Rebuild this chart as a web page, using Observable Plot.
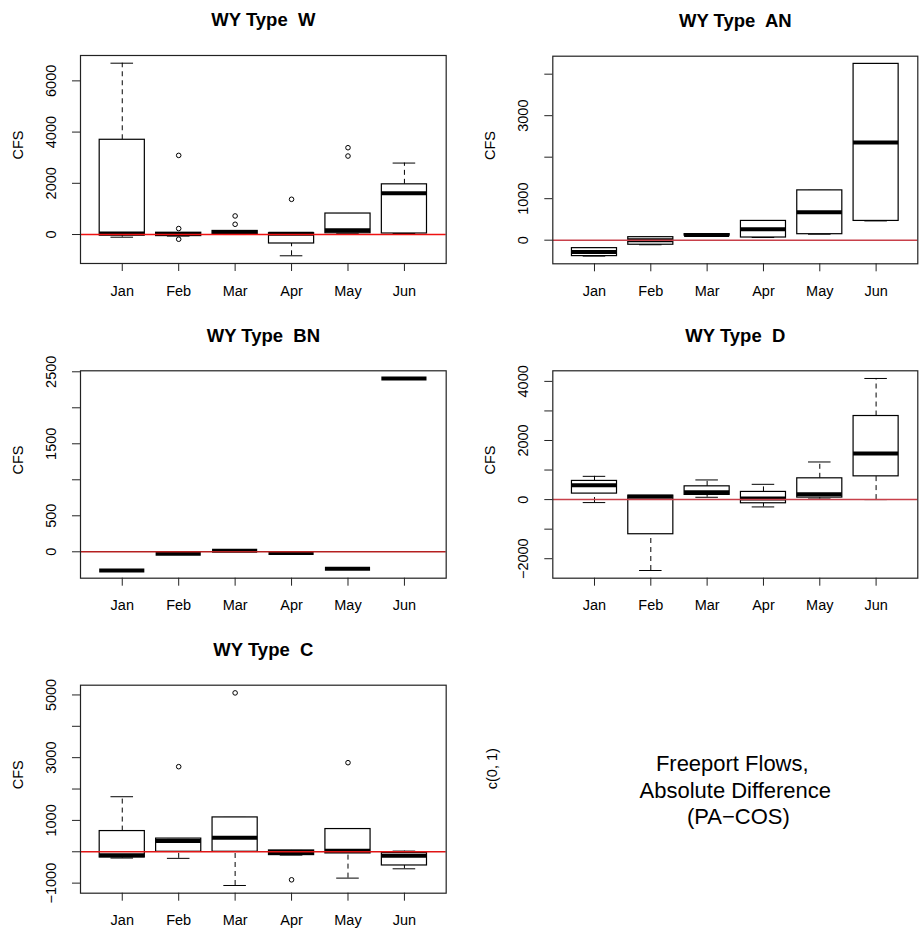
<!DOCTYPE html>
<html>
<head>
<meta charset="utf-8">
<script src="https://cdn.jsdelivr.net/npm/d3@7"></script>
<script src="https://cdn.jsdelivr.net/npm/@observablehq/plot@0.6"></script>
<style>
  html, body { margin: 0; padding: 0; background: #fff; }
  #chart { position: relative; width: 923px; height: 941px; overflow: hidden; background: #fff; }
  #chart svg { position: absolute; overflow: visible; }
</style>
</head>
<body>
<div id="chart"></div>
<script>
// ---------- data ----------
const months = ["Jan", "Feb", "Mar", "Apr", "May", "Jun"];

// per month: [lower whisker, Q1, median, Q3, upper whisker]
const statsW = [
  [-105, -40, 40, 3700, 6690],
  [-60, -60, 20, 70, 70],
  [0, 0, 100, 140, 140],
  [-830, -350, 30, 50, 50],
  [50, 50, 165, 820, 820],
  [40, 40, 1610, 1960, 2790]
];
const outW = [["Feb", 3090], ["Feb", 233], ["Feb", -183], ["Mar", 725], ["Mar", 400], ["Apr", 1375], ["May", 3390], ["May", 3065]];

const statsAN = [
  [-384, -384, -288, -192, -192],
  [-110, -110, 0, 72, 72],
  [110, 110, 125, 145, 145],
  [64, 64, 264, 464, 464],
  [144, 144, 672, 1200, 1200],
  [464, 464, 2352, 4248, 4248]
];
const outAN = [];

const statsBN = [
  [-260, -260, -260, -260, -260],
  [-28, -28, -28, -28, -28],
  [14, 14, 14, 14, 14],
  [-18, -18, -18, -18, -18],
  [-236, -236, -236, -236, -236],
  [2407, 2407, 2407, 2407, 2407]
];
const outBN = [];

const statsD = [
  [-101, 203, 483, 632, 787],
  [-2399, -1172, 100, 135, 135],
  [78, 159, 247, 449, 665],
  [-248, -124, 40, 260, 517],
  [20, 68, 180, 720, 1273],
  [0, 787, 1564, 2828, 4098]
];
const outD = [];

const statsC = [
  [-200, -182, -110, 660, 1755],
  [-210, 0, 341, 420, 420],
  [-1075, 0, 447, 1095, 1095],
  [-106, -106, -10, 42, 42],
  [-840, -53, 32, 724, 724],
  [-543, -437, -128, -42, 21]
];
const outC = [["Feb", 2713], ["Mar", 5065], ["Apr", -894], ["May", 2840]];

// y-axis ticks and which of them carry a label
const ticksW = [0, 2000, 4000, 6000];
const labelsW = [0, 2000, 4000, 6000];
const ticksAN = [0, 1000, 2000, 3000, 4000];
const labelsAN = [0, 1000, 3000];
const ticksBN = [0, 500, 1000, 1500, 2000, 2500];
const labelsBN = [0, 500, 1500, 2500];
const ticksD = [-2000, -1000, 0, 1000, 2000, 3000, 4000];
const labelsD = [-2000, 0, 2000, 4000];
const ticksC = [-1000, 0, 1000, 2000, 3000, 4000, 5000];
const labelsC = [-1000, 1000, 3000, 5000];

const titles = ["WY Type  W", "WY Type  AN", "WY Type  BN", "WY Type  D", "WY Type  C"];
const yLabel = "CFS";
const noteLabel = "c(0, 1)";
const noteText = "Freeport Flows,\u00a0\nAbsolute Difference\n\u00a0(PA\u2212COS)";

// ---------- drawing ----------
const FONT = "'Liberation Sans', Arial, Helvetica, sans-serif";
const chart = document.getElementById("chart");
const fmt = v => (v < 0 ? "\u2212" + Math.abs(v) : String(v));

function place(svg, left, top) {
  svg.style.left = left + "px";
  svg.style.top = top + "px";
  chart.appendChild(svg);
}

function panel(cfg) {
  const {stats, outliers, ticks, labels, title, red, frame, cell} = cfg;
  const [x0, y0, x1, y1] = frame;
  const [cx, cy] = cell;
  const ML = x0 - cx, MT = y0 - cy, MR = 6, MB = 50;
  const rows = stats.map((s, i) => ({x: i + 1, lo: s[0], q1: s[1], med: s[2], q3: s[3], hi: s[4]}));
  const outs = outliers.map(([m, v]) => ({x: months.indexOf(m) + 1, v}));
  const all = stats.flat().concat(outliers.map(d => d[1]));
  const mn = d3.min(all), mx = d3.max(all), ext = 0.04 * (mx - mn);
  const svg = Plot.plot({
    width: (x1 - x0) + ML + MR,
    height: (y1 - y0) + MT + MB,
    marginLeft: ML, marginTop: MT, marginRight: MR, marginBottom: MB,
    x: {domain: [0.26, 6.74]},
    y: {domain: [mn - ext, mx + ext]},
    style: {fontFamily: FONT, fontSize: "14.5px", color: "#000", background: "transparent", overflow: "visible"},
    marks: [
      Plot.ruleX(rows, {x: "x", y1: "q3", y2: "hi", stroke: "#000", strokeWidth: 1, strokeDasharray: "5,4"}),
      Plot.ruleX(rows, {x: "x", y1: "lo", y2: "q1", stroke: "#000", strokeWidth: 1, strokeDasharray: "5,4"}),
      Plot.ruleY(rows, {y: "hi", x1: d => d.x - 0.2, x2: d => d.x + 0.2, stroke: "#000", strokeWidth: 1}),
      Plot.ruleY(rows, {y: "lo", x1: d => d.x - 0.2, x2: d => d.x + 0.2, stroke: "#000", strokeWidth: 1}),
      Plot.rect(rows, {x1: d => d.x - 0.4, x2: d => d.x + 0.4, y1: "q1", y2: "q3", fill: "#fff", stroke: "#000", strokeWidth: 1.2}),
      Plot.ruleY(rows, {y: "med", x1: d => d.x - 0.4, x2: d => d.x + 0.4, stroke: "#000", strokeWidth: 4}),
      Plot.dot(outs, {x: "x", y: "v", r: 2.3, stroke: "#000", fill: "none", strokeWidth: 1}),
      Plot.ruleY([0], {stroke: red, strokeWidth: 1.5}),
      Plot.frame({stroke: "#222", strokeWidth: 1.2}),
      Plot.axisX({ticks: [1, 2, 3, 4, 5, 6], tickFormat: i => months[i - 1], tickSize: 8, tickPadding: 14, label: null, stroke: "#222"}),
      Plot.axisY({ticks, tickFormat: v => (labels.includes(v) ? fmt(v) : ""), tickSize: 8, tickPadding: 17, tickRotate: -90, label: null, stroke: "#222"}),
      Plot.text([title], {frameAnchor: "top", lineAnchor: "middle", dy: -35, fontWeight: "bold", fontSize: 18.5}),
      Plot.text([yLabel], {frameAnchor: "left", lineAnchor: "middle", dx: -62, rotate: -90})
    ]
  });
  place(svg, cx, cy);
}

panel({stats: statsW, outliers: outW, ticks: ticksW, labels: labelsW, title: titles[0], red: "#ee1111",
       frame: [80, 55, 445.7, 263], cell: [0, 0]});
panel({stats: statsAN, outliers: outAN, ticks: ticksAN, labels: labelsAN, title: titles[1], red: "#c8404a",
       frame: [552.3, 55.7, 917.3, 263.3], cell: [461, 0]});
panel({stats: statsBN, outliers: outBN, ticks: ticksBN, labels: labelsBN, title: titles[2], red: "#b52020",
       frame: [80, 370.3, 445.7, 577.7], cell: [0, 314]});
panel({stats: statsD, outliers: outD, ticks: ticksD, labels: labelsD, title: titles[3], red: "#c8404a",
       frame: [552.3, 370.3, 917.3, 577.7], cell: [461, 314]});
panel({stats: statsC, outliers: outC, ticks: ticksC, labels: labelsC, title: titles[4], red: "#e01515",
       frame: [80, 684.7, 445.7, 892.7], cell: [0, 628]});

// empty sixth cell with the annotation
{
  const frame = [552.3, 684.7, 917.3, 892.7], cell = [461, 628];
  const ML = frame[0] - cell[0], MT = frame[1] - cell[1];
  const svg = Plot.plot({
    width: (frame[2] - frame[0]) + ML + 6,
    height: (frame[3] - frame[1]) + MT + 48,
    marginLeft: ML, marginTop: MT, marginRight: 6, marginBottom: 48,
    style: {fontFamily: FONT, fontSize: "14.5px", color: "#000", background: "transparent", overflow: "visible"},
    marks: [
      Plot.text([noteLabel], {frameAnchor: "left", lineAnchor: "middle", dx: -60, rotate: -90}),
      Plot.text([noteText], {frameAnchor: "middle", fontSize: 22, lineHeight: 1.2})
    ]
  });
  place(svg, cell[0], cell[1]);
}
</script>
</body>
</html>
